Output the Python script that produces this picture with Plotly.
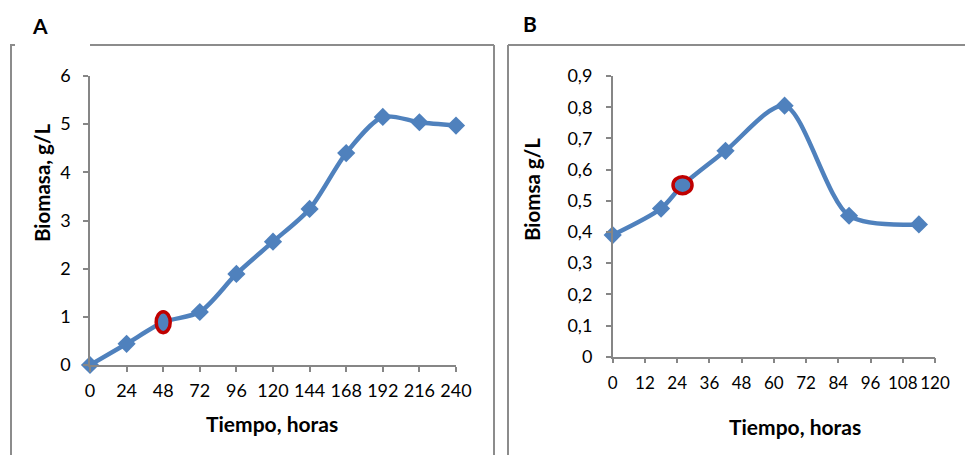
import plotly.graph_objects as go

# ---- Data ----
# Panel A
a_time = [0, 24, 48, 72, 96, 120, 144, 168, 192, 216, 240]
a_biomass = [0.0, 0.44, 0.89, 1.10, 1.89, 2.56, 3.24, 4.40, 5.15, 5.04, 4.97]
a_highlight = 2  # index of red-circled point
a_xticks = [0, 24, 48, 72, 96, 120, 144, 168, 192, 216, 240]
a_yticks = [0, 1, 2, 3, 4, 5, 6]

# Panel B
b_time = [0, 18, 26, 42, 64, 88, 114]
b_biomass = [0.39, 0.475, 0.55, 0.66, 0.805, 0.452, 0.424]
b_highlight = 2
b_xticks = [0, 12, 24, 36, 48, 60, 72, 84, 96, 108, 120]
b_yticks = [0, 0.1, 0.2, 0.3, 0.4, 0.5, 0.6, 0.7, 0.8, 0.9]
b_yticklabels = ["0", "0,1", "0,2", "0,3", "0,4", "0,5", "0,6", "0,7", "0,8", "0,9"]

BLUE = "#4F81BD"
RED = "#C00000"
AXIS = "#868686"
FRAME = "#8C8C8C"
FONT = "Lato"

W, H = 965, 455

fig = go.Figure()

def add_panel(xs, ys, hi, xa, ya):
    fig.add_trace(go.Scatter(x=xs, y=ys, mode="lines",
                             line=dict(color=BLUE, width=4.5, shape="spline", smoothing=0.8),
                             xaxis=xa, yaxis=ya, showlegend=False, hoverinfo="skip",
                             cliponaxis=False))
    mx = [v for i, v in enumerate(xs) if i != hi]
    my = [v for i, v in enumerate(ys) if i != hi]
    fig.add_trace(go.Scatter(x=mx, y=my, mode="markers",
                             marker=dict(symbol="diamond", size=14, color=BLUE,
                                         line=dict(width=0)),
                             xaxis=xa, yaxis=ya, showlegend=False, cliponaxis=False))

add_panel(a_time, a_biomass, a_highlight, "x", "y")
add_panel(b_time, b_biomass, b_highlight, "x2", "y2")

# red highlighted ellipses anchored at data points
fig.add_shape(type="circle", xref="x", yref="y", xsizemode="pixel", ysizemode="pixel",
              xanchor=a_time[a_highlight], yanchor=a_biomass[a_highlight],
              x0=-7, x1=7, y0=-10.5, y1=10.5,
              fillcolor=BLUE, line=dict(color=RED, width=3.5))
fig.add_shape(type="circle", xref="x2", yref="y2", xsizemode="pixel", ysizemode="pixel",
              xanchor=b_time[b_highlight], yanchor=b_biomass[b_highlight],
              x0=-9.5, x1=9.5, y0=-8.5, y1=8.5,
              fillcolor=BLUE, line=dict(color=RED, width=3.5))

axis_common = dict(showgrid=False, zeroline=False, showline=True, linecolor=AXIS,
                   linewidth=1.5, ticks="outside", ticklen=5, tickcolor=AXIS, tickwidth=1.5,
                   automargin=False, fixedrange=True)
xfont = dict(family=FONT, size=18, color="#000")

fig.update_layout(
    width=W, height=H, margin=dict(l=0, r=0, t=0, b=0, pad=0, autoexpand=False),
    paper_bgcolor="white", plot_bgcolor="white",
    xaxis=dict(domain=[90 / W, 456 / W], range=[0, 240], tickvals=a_xticks,
               anchor="y", tickfont=xfont, tickangle=0, ticklabelstandoff=4, **axis_common),
    yaxis=dict(domain=[(H - 365) / H, (H - 76) / H], range=[0, 6], tickvals=a_yticks,
               anchor="x", tickfont=xfont, ticklabelstandoff=9, **axis_common),
    xaxis2=dict(domain=[612.7 / W, 935 / W], range=[0, 120], tickvals=b_xticks,
                anchor="y2", tickfont=dict(family=FONT, size=17, color="#000"),
                tickangle=0, ticklabelstandoff=5, **axis_common),
    yaxis2=dict(domain=[(H - 356.7) / H, (H - 76) / H], range=[0, 0.9], tickvals=b_yticks,
                ticktext=b_yticklabels, anchor="x2", tickfont=xfont, ticklabelstandoff=10,
                **axis_common),
)

def ann(text, x, y, size, angle=0):
    fig.add_annotation(text=f"<b>{text}</b>", x=x / W, y=1 - y / H, xref="paper", yref="paper",
                       showarrow=False, textangle=angle, xanchor="center", yanchor="middle",
                       font=dict(family=FONT, size=size, color="#000"))

ann("A", 40, 25, 21)
ann("B", 530, 23, 21)
ann("Tiempo, horas", 272, 423, 21)
ann("Tiempo, horas", 795, 426, 21)
ann("Biomasa, g/L", 42, 183, 20.5, -90)
ann("Biomsa g/L", 532, 190, 20.5, -90)

# panel frames
def line(x0, y0, x1, y1):
    fig.add_shape(type="line", xref="paper", yref="paper",
                  x0=x0 / W, y0=1 - y0 / H, x1=x1 / W, y1=1 - y1 / H,
                  line=dict(color=FRAME, width=2))

line(11, 45, 11, 455)
line(10, 45, 15, 45)
line(90, 45, 494, 45)
line(494, 45, 494, 455)
line(508, 45, 508, 455)
line(508, 45, 965, 45)

fig.write_html("out.html", config={"displayModeBar": False},
               post_script="document.body.style.margin='0px';document.body.style.overflow='hidden';")
